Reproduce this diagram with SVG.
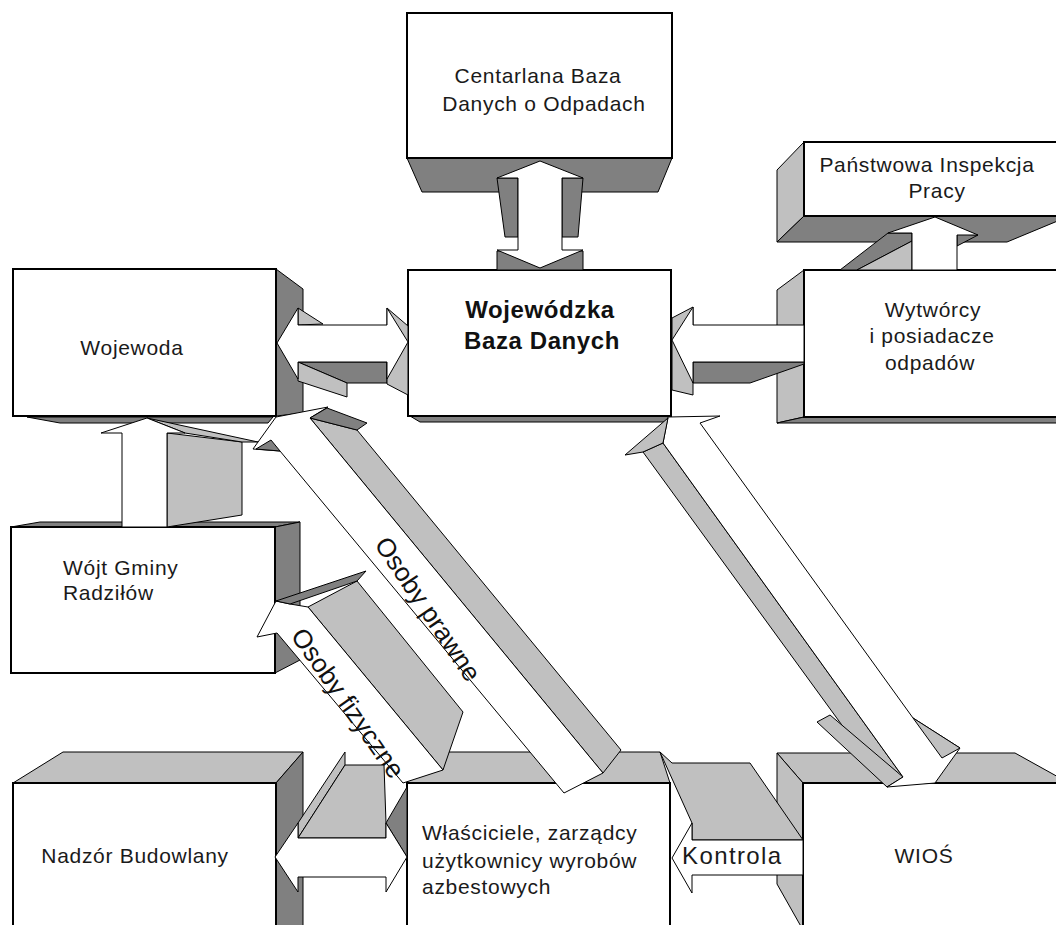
<svg xmlns="http://www.w3.org/2000/svg" width="1056" height="925" viewBox="0 0 1056 925">
<style>
.lg{fill:#c0c0c0;stroke:#000;stroke-width:1;stroke-linejoin:round}
.dg{fill:#808080;stroke:#000;stroke-width:1;stroke-linejoin:round}
.w{fill:#fff;stroke:#000;stroke-width:1;stroke-linejoin:round}
.front{fill:#fff;stroke:#000;stroke-width:2}
.t{font-family:"Liberation Sans",Arial,sans-serif;font-size:21px;fill:#1a1a1a;letter-spacing:0.7px}
.b{font-family:"Liberation Sans",Arial,sans-serif;font-size:24px;font-weight:bold;fill:#111;letter-spacing:0.6px}
.r{font-family:"Liberation Sans",Arial,sans-serif;font-size:26px;fill:#111}
</style>
<rect width="1056" height="925" fill="#fff"/>

<g id="n-centralna">
<polygon class="dg" points="407,158 672,158 658,192 422,192"/>
<rect class="front" x="407" y="13" width="265" height="145"/>
<text class="t" x="538" y="83" text-anchor="middle">Centarlana Baza</text>
<text class="t" x="544" y="111" text-anchor="middle">Danych o Odpadach</text>
</g>

<g id="n-wojewodzka">
<polygon class="dg" points="410,416 671,416 664,422 420,422"/>
<rect class="front" x="408" y="270" width="263" height="146"/>
<text class="b" x="540" y="318" text-anchor="middle">Wojewódzka</text>
<text class="b" x="542" y="349" text-anchor="middle">Baza Danych</text>
</g>

<g id="n-panstwowa">
<polygon class="lg" points="777,170 804,142 804,216 777,242"/>
<polygon class="dg" points="804,216 1060,216 1060,220 1007,242 777,242"/>
<rect class="front" x="804" y="142" width="260" height="74"/>
<text class="t" x="927" y="172" text-anchor="middle">Państwowa Inspekcja</text>
<text class="t" x="937" y="198" text-anchor="middle">Pracy</text>
</g>

<g id="n-wytworcy">
<polygon class="lg" points="777,290 804,270 804,417 777,423"/>
<polygon class="dg" points="777,423 804,417 1060,417 1060,423"/>
<rect class="front" x="804" y="270" width="260" height="147"/>
<text class="t" x="933" y="317" text-anchor="middle">Wytwórcy</text>
<text class="t" x="932" y="343" text-anchor="middle">i posiadacze</text>
<text class="t" x="930" y="370" text-anchor="middle">odpadów</text>
</g>

<g id="n-wojewoda">
<polygon class="dg" points="276,269 303,289 303,413 276,416"/>
<polygon class="dg" points="27,417 273,417 268,423 60,423"/>
<rect class="front" x="13" y="269" width="263" height="147"/>
<text class="t" x="132" y="355" text-anchor="middle">Wojewoda</text>
</g>

<g id="n-wojt">
<polygon class="dg" points="11,527 40,522 300,522 275,527"/>
<polygon class="dg" points="275,527 300,522 300,660 275,673"/>
<rect class="front" x="11" y="527" width="264" height="146"/>
<text class="t" x="63" y="575">Wójt Gminy</text>
<text class="t" x="63" y="600">Radziłów</text>
</g>

<g id="n-nadzor">
<polygon class="lg" points="13,783 63,752 303,752 276,783"/>
<polygon class="dg" points="276,783 303,752 303,930 276,930"/>
<rect class="front" x="13" y="783" width="263" height="150"/>
<text class="t" x="135" y="863" text-anchor="middle">Nadzór Budowlany</text>
</g>

<g id="n-wlasciciele">
<polygon class="lg" points="407,783 421,752 660,752 670,783"/>
<rect class="front" x="407" y="783" width="263" height="150"/>
<text class="t" x="422" y="840">Właściciele, zarządcy</text>
<text class="t" x="422" y="868">użytkownicy wyrobów</text>
<text class="t" x="422" y="894">azbestowych</text>
</g>

<g id="n-wios">
<polygon class="lg" points="777,753 1015,753 1060,778 1060,783 803,783"/>
<polygon class="lg" points="777,753 803,783 803,930 777,884"/>
<rect class="front" x="803" y="783" width="260" height="150"/>
<text class="t" x="924" y="863" text-anchor="middle">WIOŚ</text>
</g>

<g id="connectors">
<g id="c-centralna-wojewodzka">
<polygon class="dg" points="497,178 518,178 518,237 505,237"/>
<polygon class="dg" points="562,178 583,178 578,237 562,237"/>
<polygon class="dg" points="497,251 583,251 583,270 497,270"/>
<polygon class="w" points="540,161 583,178 562,178 562,250 583,250 540,268 497,250 518,250 518,178 497,178"/>
</g>
<g id="c-wojewoda-wojewodzka">
<polygon class="lg" points="298,308 323,324 298,325"/>
<polygon class="dg" points="298,362 387,362 387,383 347,383"/>
<polygon class="lg" points="298,362 347,383 347,397 298,381"/>
<polygon class="lg" points="387,308 408,326 408,395 387,384"/>
<polygon class="w" points="277,343 298,308 298,325 387,325 387,308 408,342 387,379 387,362 298,362 298,379"/>
</g>
<g id="c-wytworcy-wojewodzka">
<polygon class="lg" points="672,318 693,307 693,395 672,390"/>
<polygon class="dg" points="693,362 804,362 804,364 750,383 693,383"/>
<polygon class="w" points="672,340 693,307 693,325 804,325 804,362 693,362 693,383"/>
</g>
<g id="c-wytworcy-panstwowa">
<polygon class="dg" points="840,270 888,233 912,233 912,241 857,270"/>
<polygon class="lg" points="857,270 912,241 912,270"/>
<polygon class="dg" points="957,234 978,235 957,246"/>
<polygon class="w" points="935,217 978,235 957,235 957,270 912,270 912,233 888,233"/>
</g>
<g id="c-wojt-wojewoda">
<polygon class="lg" points="167,433 242,442 242,515 167,527"/>
<polygon class="lg" points="147,418 258,442 242,442 185,433"/>
<polygon class="w" points="147,418 185,433 167,433 167,527 122,527 122,433 101,433"/>
</g>
<g id="c-osoby-prawne">
<polygon class="lg" points="310,418 357,430 621,750 603,773"/>
<polygon class="w" points="253,449 276,417 328,407 310,418 603,773 564,793 280,451"/>
<polygon class="dg" points="310,418 327,408 367,423 357,430"/>
<polygon class="dg" points="256,449 271,440 280,451"/>
<text class="r" transform="translate(428,609) rotate(56)" text-anchor="middle" dominant-baseline="central">Osoby prawne</text>
</g>
<g id="c-osoby-fizyczne">
<polygon class="lg" points="308,607 357,581 463,712 443,770"/>
<polygon class="w" points="257,637 276,601 290,604 308,607 443,770 403,783 277,633"/>
<polygon class="dg" points="276,601 366,571 357,581 290,604"/>
<text class="r" transform="translate(348,703) rotate(55)" text-anchor="middle" dominant-baseline="central">Osoby fizyczne</text>
</g>
<g id="c-nadzor-wlasciciele">
<polygon class="lg" points="298,823 345,752 345,765 298,838"/>
<polygon class="lg" points="298,838 345,765 384,765 386,823 386,838"/>
<polygon class="dg" points="386,823 407,787 407,857"/>
<polygon class="w" points="275,857 298,823 298,838 386,838 386,823 407,857 386,892 386,877 298,877 298,892"/>
</g>
<g id="c-wios-wojewodzka">
<polygon class="lg" points="643,452 663,443 903,777 887,787"/>
<polygon class="lg" points="817,722 830,715 903,777 887,787"/>
<polygon class="w" points="663,443 668,417 720,416 700,423 913,718 960,748 935,783 887,787 903,777"/>
<polygon class="lg" points="913,718 960,748 942,758"/>
<polygon class="lg" points="625,455 668,418 663,443 643,452"/>
</g>
<g id="c-kontrola">
<polygon class="lg" points="660,752 672,763 750,763 803,840 692,840 692,823"/>
<polygon class="w" points="672,858 692,823 692,840 803,840 803,875 692,875 692,893"/>
<text class="t" x="682" y="864" style="font-size:24px;letter-spacing:1.4px">Kontrola</text>
</g>
</g>
</svg>
